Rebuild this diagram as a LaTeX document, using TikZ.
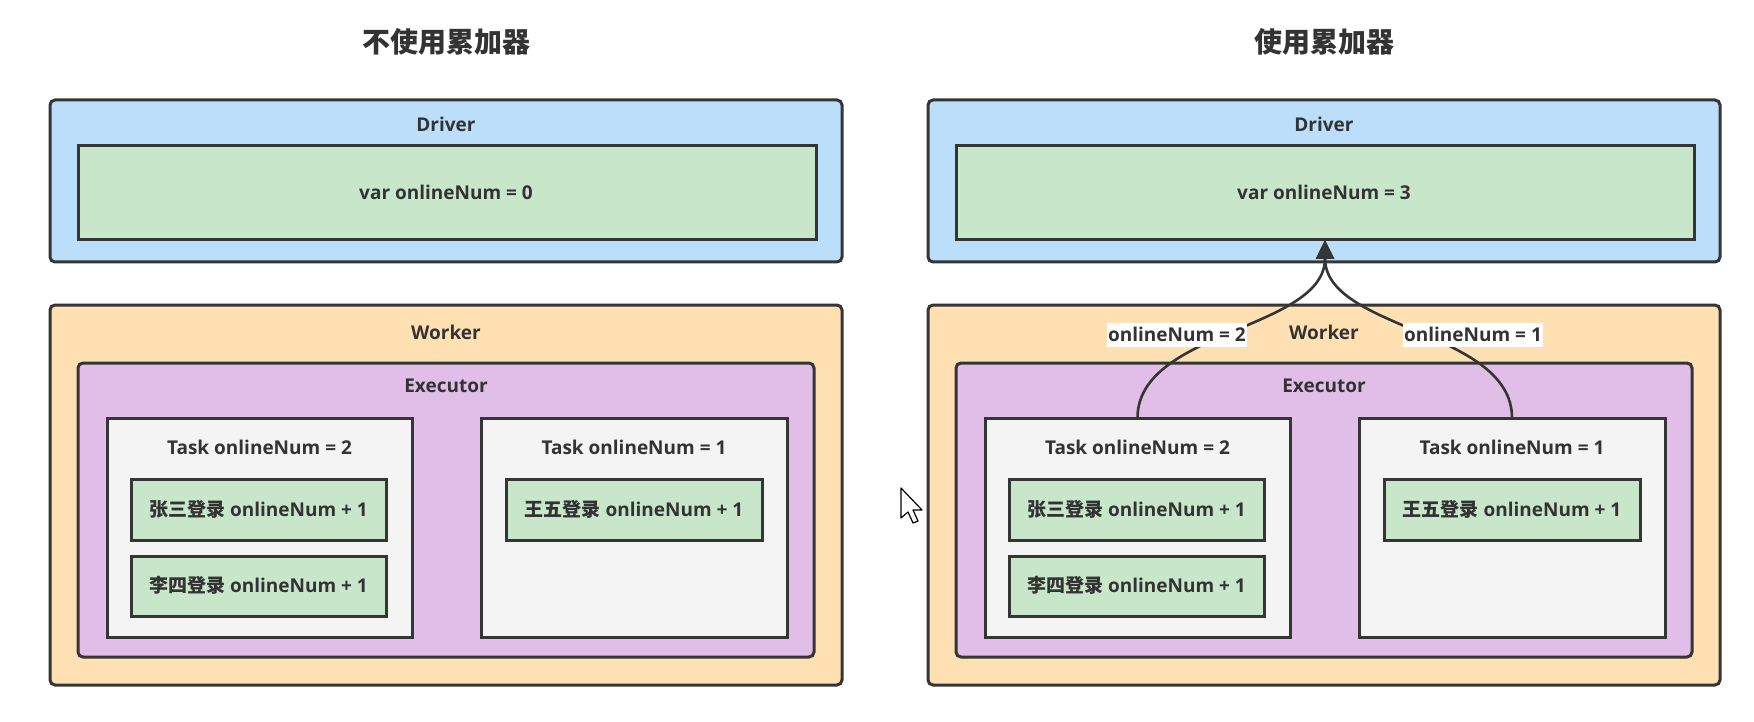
\documentclass[tikz,border=0pt]{standalone}
\usepackage{fontspec}
\setmainfont{Open Sans}
\newfontfamily\cjk{Noto Sans CJK SC}
\usetikzlibrary{arrows.meta}
\definecolor{ink}{HTML}{333333}
\definecolor{edge}{HTML}{353535}
\definecolor{drvfill}{HTML}{BBDEFB}
\definecolor{grnfill}{HTML}{C8E6C9}
\definecolor{wrkfill}{HTML}{FFE0B2}
\definecolor{exefill}{HTML}{E1BEE7}
\definecolor{tskfill}{HTML}{F4F4F4}
\tikzset{
  frame/.style={draw=edge, line width=3pt, inner sep=0pt, outer sep=0pt},
  outerbox/.style={frame, rounded corners=5pt},
  txt/.style={text=ink, font=\bfseries\fontsize{19}{22}\selectfont, inner sep=0pt, text height=13.5pt, text depth=0pt},
  ttl/.style={text=ink, font=\cjk\bfseries\fontsize{28}{32}\selectfont, inner sep=0pt, text height=24pt, text depth=3pt},
  conn/.style={draw=edge, line width=2.6pt, -{Triangle[width=18pt,length=19pt]}},
  lbl/.style={txt, fill=white, inner xsep=1.5pt, inner ysep=5pt},
}
\newcommand\rbox[6]{\node[#2, minimum width={(#5-#3)*1pt}, minimum height={(#6-#4)*1pt}] (#1) at ({(#3+#5)/2},{(#4+#6)/2}) {};}
\newcommand\panel[3]{%
  \node[ttl] (#1-title) at (446,42) {#2};
  \rbox{#1-drv}{outerbox, fill=drvfill}{50}{100}{842}{262}
  \node[txt] (#1-drvt) at (446,125) {Driver};
  \rbox{#1-var}{frame, fill=grnfill}{78}{146}{816}{240}
  \node[txt] (#1-vart) at (446,193) {var onlineNum = #3};
  \rbox{#1-wrk}{outerbox, fill=wrkfill}{50}{305}{842}{685}
  \node[txt] (#1-wrkt) at (446,333) {Worker};
  \rbox{#1-exe}{outerbox, fill=exefill}{78}{363}{814}{657}
  \node[txt] (#1-exet) at (446,386) {Executor};
  \rbox{#1-t1}{frame, fill=tskfill}{107}{418}{412}{637}
  \node[txt] (#1-t1t) at (259.5,448) {Task onlineNum = 2};
  \rbox{#1-zs}{frame, fill=grnfill}{131}{479}{386}{540}
  \node[txt] (#1-zst) at (258.5,509.5) {{\cjk 张三登录} onlineNum + 1};
  \rbox{#1-ls}{frame, fill=grnfill}{131}{556}{386}{616}
  \node[txt] (#1-lst) at (258.5,586) {{\cjk 李四登录} onlineNum + 1};
  \rbox{#1-t2}{frame, fill=tskfill}{481}{418}{787}{637}
  \node[txt] (#1-t2t) at (634,448) {Task onlineNum = 1};
  \rbox{#1-ww}{frame, fill=grnfill}{506}{479}{762}{540}
  \node[txt] (#1-wwt) at (634,509.5) {{\cjk 王五登录} onlineNum + 1};
}
\begin{document}
\begin{tikzpicture}[x=1pt, y=-1pt]
  \fill[white] (0,0) rectangle (1754,722);
  \useasboundingbox (0,0) rectangle (1754,722);
  \panel{l}{不使用累加器}{0}
  \begin{scope}[xshift=878pt]
    \panel{r}{使用累加器}{3}
  \end{scope}
  \draw[conn] (r-t1.north) .. controls +(0,-88) and +(0,90) .. (r-var.south);
  \draw[conn] (r-t2.north) .. controls +(0,-88) and +(0,90) .. (r-var.south);
  \node[lbl] (r-l1) at (1177,335) {onlineNum = 2};
  \node[lbl] (r-l2) at (1473,335) {onlineNum = 1};
  \draw[black, line width=1.2pt, fill=white, line join=round] (901,488) -- ++(0,30) -- ++(7,-6) -- ++(5,11) -- ++(5,-2) -- ++(-5,-11) -- ++(9,0) -- cycle;
\end{tikzpicture}
\end{document}
